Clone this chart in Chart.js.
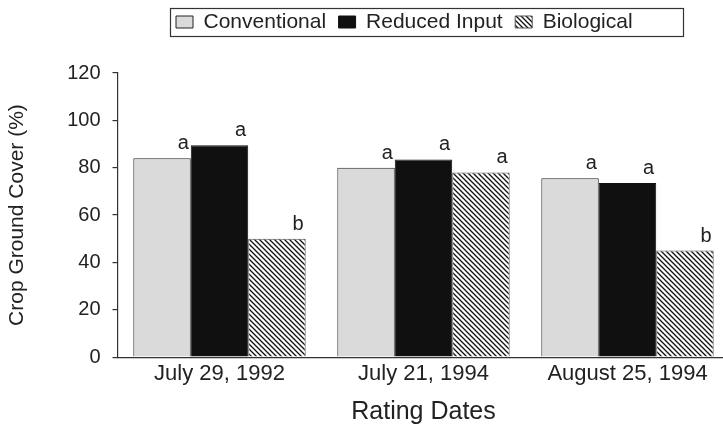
<!DOCTYPE html>
<html id="html">
<head>
<meta charset="utf-8">
<script src="https://cdn.jsdelivr.net/npm/chart.js@4.4.1/dist/chart.umd.min.js"></script>
<style>
  html, body { margin: 0; padding: 0; background: #fff; overflow: hidden; }
  #caja { position: absolute; left: 0; top: 0; width: 740px; height: 427px; }
</style>
</head>
<body>
<div id="caja"><canvas id="grafico_barras" width="740" height="427"></canvas></div>
<script>
/*********-datos-*********/
const FECHAS = ["July 29, 1992", "July 21, 1994", "August 25, 1994"];
const SERIES = ["Conventional", "Reduced Input", "Biological"];
const CONVENCIONAL = [84, 80, 75.5];
const REDUCIDO = [89.5, 83.5, 73.5];
const BIOLOGICO = [50, 78, 45];
// letras de significancia encima de cada barra
const LETRAS_CONV = ["a", "a", "a"];
const LETRAS_RED = ["a", "a", "a"];
const LETRAS_BIO = ["b", "a", "b"];
const TICKS_Y = [0, 20, 40, 60, 80, 100, 120];
//------------------------------------//

const FUENTE = "'Liberation Sans', Arial, Helvetica, sans-serif";
const TEXTO = "#222";
const LINEA = "#333";

Chart.defaults.font.family = FUENTE;
Chart.defaults.color = TEXTO;

const CTX = document.getElementById("grafico_barras").getContext("2d");

/*********-rayado diagonal para Biological-*********/
function rayado() {
  const c = document.createElement("canvas");
  c.width = 5;
  c.height = 5;
  const g = c.getContext("2d");
  g.fillStyle = "#fff";
  g.fillRect(0, 0, 5, 5);
  g.strokeStyle = "#111";
  g.lineWidth = 1.3;
  g.beginPath();
  g.moveTo(-1, -1); g.lineTo(6, 6);
  g.moveTo(-1, 4); g.lineTo(1, 6);
  g.moveTo(4, -1); g.lineTo(6, 1);
  g.stroke();
  return CTX.createPattern(c, "repeat");
}
//------------------------------------//

/*********-letras a / b encima de las barras-*********/
const letras = {
  id: "letras",
  afterDatasetsDraw(chart) {
    const ctx = chart.ctx;
    ctx.save();
    ctx.font = "20px " + FUENTE;
    ctx.fillStyle = TEXTO;
    ctx.textAlign = "right";
    ctx.textBaseline = "alphabetic";
    chart.data.datasets.forEach((ds, d) => {
      chart.getDatasetMeta(d).data.forEach((bar, i) => {
        ctx.fillText(ds.letras[i], bar.x + bar.width / 2 - 2, bar.y - 9);
      });
    });
    ctx.restore();
  }
};

/*********-marco de la leyenda-*********/
const marcoLeyenda = {
  id: "marcoLeyenda",
  afterLayout(chart) {
    const lg = chart.legend;
    const ca = chart.chartArea;
    const pad = lg.options.labels.padding;
    const marcoX = ca.left + 52.5;
    lg.left = marcoX + 6 - pad;
    lg.right = lg.left + lg.width;
    lg.top = -1;
    lg.bottom = lg.top + lg.height;
    chart.$marco = { x: marcoX, y: 8, w: 513, h: 28 };
  },
  afterDraw(chart) {
    const m = chart.$marco;
    const ctx = chart.ctx;
    ctx.save();
    ctx.strokeStyle = LINEA;
    ctx.lineWidth = 1.2;
    ctx.strokeRect(Math.round(m.x) + 0.5, m.y + 0.5, m.w, m.h);
    ctx.restore();
  }
};
//------------------------------------//

const data = {
  labels: FECHAS,
  datasets: [
    { label: SERIES[0], data: CONVENCIONAL, letras: LETRAS_CONV, backgroundColor: "#dadada", borderColor: "#222", borderWidth: 1 },
    { label: SERIES[1], data: REDUCIDO, letras: LETRAS_RED, backgroundColor: "#101010", borderColor: "#101010", borderWidth: 1 },
    { label: SERIES[2], data: BIOLOGICO, letras: LETRAS_BIO, backgroundColor: rayado(), borderColor: "#555", borderWidth: 1 }
  ]
};

const config = {
  type: "bar",
  data: data,
  options: {
    responsive: false,
    animation: false,
    devicePixelRatio: 1,
    categoryPercentage: 0.845,
    barPercentage: 1,
    layout: { padding: { top: 29.5, right: 10.5, bottom: 0, left: 0 } },
    plugins: {
      tooltip: { enabled: false },
      legend: {
        position: "top",
        align: "start",
        fullSize: false,
        labels: {
          boxWidth: 17,
          boxHeight: 12,
          padding: 12.5,
          color: TEXTO,
          font: { size: 21 }
        }
      }
    },
    scales: {
      x: {
        grid: { display: false, drawTicks: false, tickLength: 0 },
        border: { display: true, color: LINEA, width: 1.2 },
        ticks: { color: TEXTO, font: { size: 22 }, padding: 4, maxRotation: 0 },
        title: { display: true, text: "Rating Dates", color: TEXTO, font: { size: 25 }, padding: { top: 5.5, bottom: 0 } }
      },
      y: {
        min: TICKS_Y[0],
        max: TICKS_Y[TICKS_Y.length - 1],
        ticks: { stepSize: TICKS_Y[1] - TICKS_Y[0], color: TEXTO, font: { size: 20 }, padding: 12 },
        grid: { drawOnChartArea: false, tickLength: 5, color: LINEA, lineWidth: 1.2 },
        border: { color: LINEA, width: 1.2 },
        title: { display: true, text: "Crop Ground Cover (%)", color: TEXTO, font: { size: 21 }, padding: { top: 5, bottom: 0 } },
        afterFit(s) { s.width = 117.5; }
      }
    }
  },
  plugins: [letras, marcoLeyenda]
};

// CREAR grafico de BARRAS //
new Chart(CTX, config);
</script>
</body>
</html>
